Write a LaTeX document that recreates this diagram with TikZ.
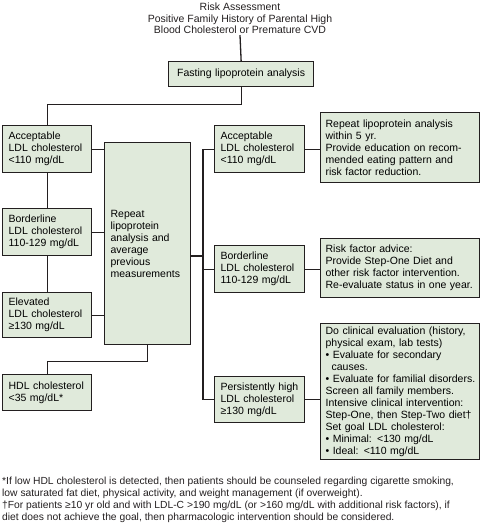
\documentclass[tikz,border=0pt]{standalone}
\usepackage{fontspec}
\setmainfont{Liberation Sans}
\definecolor{boxfill}{RGB}{224,234,219}
\definecolor{ink}{RGB}{35,31,32}
\tikzset{
  box/.style={draw=ink, line width=1.3pt, fill=boxfill, anchor=north west, inner xsep=6pt, inner ysep=0pt, align=left, font=\fontsize{10.5}{12}\selectfont},
  link/.style={draw=ink, line width=1.3pt}
}
\begin{document}
\begin{tikzpicture}[x=1pt,y=1pt,yscale=-1]
\useasboundingbox (0,0) rectangle (481,523);

% Text Node
\node[anchor=north, align=center, inner sep=1pt, text=ink, font=\fontsize{10.5}{11.8}\selectfont] (risk) at (240,1.5) {Risk Assessment\\Positive Family History of Parental High\\Blood Cholesterol or Premature CVD};

%Shape: Rectangle
\node[box, align=center, text width=133pt, minimum height=25pt] (fast) at (168,61) {Fasting lipoprotein analysis};

%Shape: Rectangle
\node[box, text width=77pt, minimum height=47pt] (accL) at (2,125) {Acceptable\\LDL cholesterol\\<110 mg/dL};
%Shape: Rectangle
\node[box, text width=77pt, minimum height=47pt] (borL) at (2,208) {Borderline\\LDL cholesterol\\110-129 mg/dL};
%Shape: Rectangle
\node[box, text width=77pt, minimum height=45pt] (eleL) at (2,292) {Elevated\\LDL cholesterol\\≥130 mg/dL};
%Shape: Rectangle
\node[box, text width=77pt, minimum height=36pt] (hdl) at (2,374) {HDL cholesterol\\<35 mg/dL*};
%Shape: Rectangle
\node[box, text width=74pt, minimum height=202pt] (rep) at (104,142) {Repeat\\lipoprotein\\analysis and\\average\\previous\\measurements};

%Shape: Rectangle
\node[box, text width=78pt, minimum height=47pt] (accM) at (214,125) {Acceptable\\LDL cholesterol\\<110 mg/dL};
%Shape: Rectangle
\node[box, text width=78pt, minimum height=47pt] (borM) at (214,245) {Borderline\\LDL cholesterol\\110-129 mg/dL};
%Shape: Rectangle
\node[box, text width=78pt, minimum height=46pt] (perM) at (214,376) {Persistently high\\LDL cholesterol\\≥130 mg/dL};

%Shape: Rectangle
\node[box, inner xsep=5pt, text width=149pt, minimum height=70pt] (advA) at (320,112) {Repeat lipoprotein analysis\\within 5 yr.\\Provide education on recom-\\mended eating pattern and\\risk factor reduction.};
%Shape: Rectangle
\node[box, inner xsep=5pt, text width=149pt, minimum height=59pt] (advB) at (320,238) {Risk factor advice:\\Provide Step-One Diet and\\\mbox{other risk factor intervention.}\\\mbox{Re-evaluate status in one year.}};
%Shape: Rectangle
\node[box, inner xsep=5pt, text width=149pt, minimum height=136pt] (advC) at (320,323) {\mbox{Do clinical evaluation (history,}\\physical exam, lab tests)\\• Evaluate for secondary\\\hspace*{6pt}causes.\\\mbox{• Evaluate for familial disorders.}\\Screen all family members.\\\mbox{Intensive clinical intervention:}\\\mbox{Step-One, then Step-Two diet†}\\Set goal LDL cholesterol:\\• Minimal: <130 mg/dL\\• Ideal: <110 mg/dL};

% Text Node
\node[anchor=north west, align=left, inner sep=0pt, text=ink, font=\fontsize{10.3}{12}\selectfont] (notes) at (2,477) {*If low HDL cholesterol is detected, then patients should be counseled regarding cigarette smoking,\\low saturated fat diet, physical activity, and weight management (if overweight).\\†For patients ≥10 yr old and with LDL-C >190 mg/dL (or >160 mg/dL with additional risk factors), if\\diet does not achieve the goal, then pharmacologic intervention should be considered.};

%Straight Lines
\draw[link] (risk.south) -- (fast.north);
\draw[link] (fast.south) -- ++(0,17) -| (accL.north);
\draw[link] (accL.south) -- (borL.north);
\draw[link] (borL.south) -- (eleL.north);
\foreach \n in {accL,borL,eleL}
  \draw[link] (\n.east) -- (\n.east -| rep.west);
\draw[link] (rep.south) -- ++(0,16) -| (hdl.north);
\coordinate (split) at (203,256);
\draw[link] (rep.east |- split) -- (split);
\draw[link] (accM.west -| split) -- (perM.west -| split);
\foreach \n/\m in {accM/advA,borM/advB,perM/advC}{
  \draw[link] (\n.west -| split) -- (\n.west);
  \draw[link] (\n.east) -- (\n.east -| \m.west);
}

\end{tikzpicture}
\end{document}
